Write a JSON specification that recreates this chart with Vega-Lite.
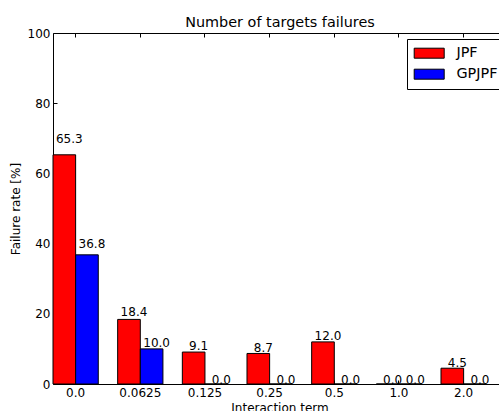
{
  "$schema": "https://vega.github.io/schema/vega-lite/v6.json",
  "width": 446,
  "height": 351,
  "autosize": "none",
  "padding": {"left": 53, "top": 33, "right": 0, "bottom": 27},
  "background": "white",
  "config": {
    "font": "DejaVu Sans",
    "view": {"stroke": null},
    "axis": {
      "domainColor": "#000000",
      "tickColor": "#000000",
      "labelColor": "#000000",
      "titleColor": "#000000",
      "labelFont": "DejaVu Sans",
      "titleFont": "DejaVu Sans",
      "labelFontSize": 12,
      "titleFontSize": 12,
      "titleFontWeight": "normal",
      "grid": false,
      "tickSize": -4
    }
  },
  "title": {
    "text": "Number of targets failures",
    "fontSize": 14.4,
    "fontWeight": "normal",
    "font": "DejaVu Sans",
    "color": "#000000",
    "anchor": "middle",
    "frame": "group",
    "dx": 4,
    "dy": 21,
    "offset": 7,
    "baseline": "alphabetic"
  },
  "data": {
    "values": [
      {"term": "0.0", "series": "JPF", "rate": 65.3},
      {"term": "0.0", "series": "GPJPF", "rate": 36.8},
      {"term": "0.0625", "series": "JPF", "rate": 18.4},
      {"term": "0.0625", "series": "GPJPF", "rate": 10.0},
      {"term": "0.125", "series": "JPF", "rate": 9.1},
      {"term": "0.125", "series": "GPJPF", "rate": 0.0},
      {"term": "0.25", "series": "JPF", "rate": 8.7},
      {"term": "0.25", "series": "GPJPF", "rate": 0.0},
      {"term": "0.5", "series": "JPF", "rate": 12.0},
      {"term": "0.5", "series": "GPJPF", "rate": 0.0},
      {"term": "1.0", "series": "JPF", "rate": 0.0},
      {"term": "1.0", "series": "GPJPF", "rate": 0.0},
      {"term": "2.0", "series": "JPF", "rate": 4.5},
      {"term": "2.0", "series": "GPJPF", "rate": 0.0}
    ]
  },
  "encoding": {
    "x": {
      "field": "term",
      "type": "nominal",
      "sort": null,
      "scale": {"paddingInner": 0.3, "paddingOuter": 0.0985, "align": 0}
    },
    "xOffset": {
      "field": "series",
      "type": "nominal",
      "sort": ["JPF", "GPJPF"],
      "scale": {"paddingInner": 0, "paddingOuter": 0}
    }
  },
  "layer": [
    {
      "mark": {"type": "bar", "stroke": "#000000", "strokeWidth": 1},
      "encoding": {
        "x": {
          "field": "term",
          "type": "nominal",
          "sort": null,
          "axis": {
            "title": "Interaction term",
            "labelAngle": 0,
            "labelPadding": 7,
            "titlePadding": 4,
            "titleX": 226.5,
            "domainWidth": 1
          }
        },
        "y": {
          "field": "rate",
          "type": "quantitative",
          "scale": {"domain": [0, 100], "nice": false},
          "axis": {
            "title": "Failure rate [%]",
            "values": [0, 20, 40, 60, 80, 100],
            "labelPadding": 7,
            "titlePadding": 5
          }
        },
        "color": {
          "field": "series",
          "type": "nominal",
          "sort": ["JPF", "GPJPF"],
          "scale": {"domain": ["JPF", "GPJPF"], "range": ["#ff0000", "#0000ff"]},
          "legend": {
            "title": null,
            "orient": "none",
            "legendX": 354,
            "legendY": 6,
            "symbolType": "M-3,-1H3V1H-3Z",
            "symbolSize": 100,
            "symbolOffset": 8,
            "symbolStrokeColor": "#000000",
            "symbolStrokeWidth": 1,
            "symbolOpacity": 1,
            "labelFontSize": 14.4,
            "labelFont": "DejaVu Sans",
            "labelColor": "#000000",
            "labelOffset": 20,
            "labelExpr": "datum.label + '\u00a0\u00a0\u00a0'",
            "rowPadding": 5,
            "padding": 7,
            "strokeColor": "#000000",
            "fillColor": "#ffffff"
          }
        }
      }
    },
    {
      "mark": {"type": "text", "baseline": "alphabetic", "align": "center", "fontSize": 12, "font": "DejaVu Sans", "color": "#000000", "dx": 5},
      "encoding": {
        "x": {
          "field": "term",
          "type": "nominal",
          "sort": null,
          "axis": {"orient": "top", "labels": false, "title": null, "domainWidth": 1}
        },
        "y": {
          "field": "rate",
          "type": "quantitative",
          "scale": {"domain": [0, 95.238], "nice": false},
          "axis": null
        },
        "text": {"field": "rate", "type": "quantitative", "format": ".1f"}
      }
    }
  ],
  "resolve": {"scale": {"y": "independent"}, "axis": {"x": "independent"}}
}
